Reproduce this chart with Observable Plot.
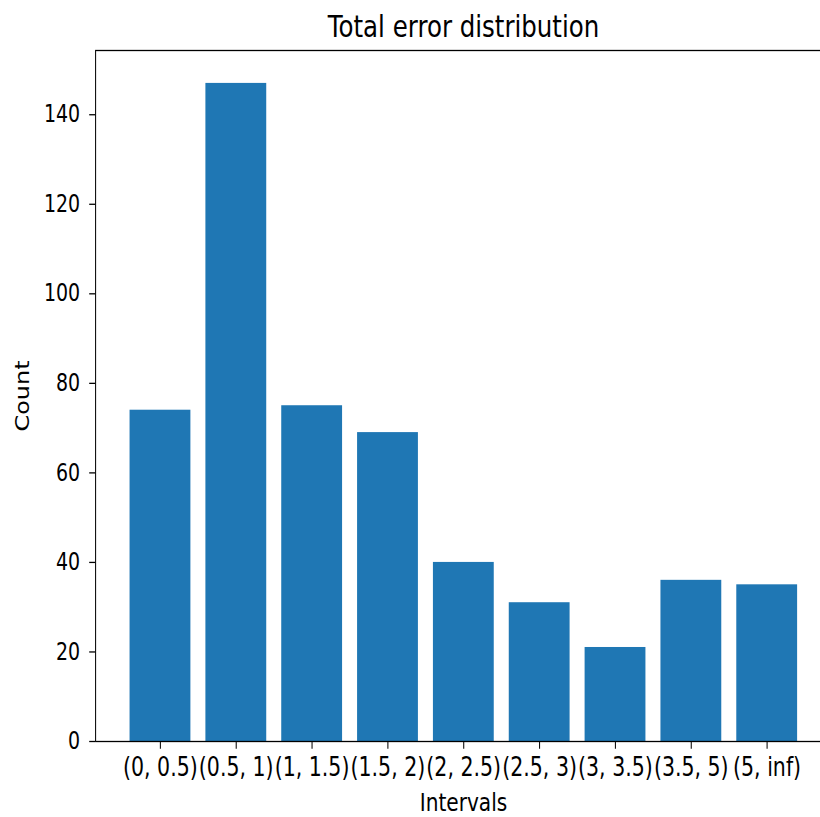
<!DOCTYPE html>
<html>
<head>
<meta charset="utf-8">
<script src="https://cdn.jsdelivr.net/npm/d3@7"></script>
<script src="https://cdn.jsdelivr.net/npm/@observablehq/plot@0.6"></script>
<style>
  html, body { margin: 0; padding: 0; background: white; }
  #chart { width: 820px; height: 817px; overflow: hidden; }
</style>
</head>
<body>
<div id="chart"></div>
<script>
const categories = ["(0, 0.5)", "(0.5, 1)", "(1, 1.5)", "(1.5, 2)", "(2, 2.5)", "(2.5, 3)", "(3, 3.5)", "(3.5, 5)", "(5, inf)"];
const counts = [74, 147, 75, 69, 40, 31, 21, 36, 35];
const yTicks = [0, 20, 40, 60, 80, 100, 120, 140];
const titleText = "Total error distribution";
const xLabel = "Intervals";
const yLabel = "Count";

const data = categories.map((c, i) => ({interval: c, count: counts[i]}));

// The reference figure is horizontally compressed; draw in a wider space and squeeze.
const SX = 0.79;
const W = 820 / SX;
const H = 817;
const axisLeft = 95.2 / SX;
const axisRight = 831 / SX;

const chart = Plot.plot({
  width: W,
  height: H,
  marginLeft: axisLeft,
  marginRight: W - axisRight,
  marginTop: 50,
  marginBottom: 76,
  style: {fontFamily: "DejaVu Sans", fontSize: "22px", color: "black", background: "white", overflow: "hidden"},
  x: {domain: categories, paddingInner: 0.2, paddingOuter: 0.44, label: null},
  y: {domain: [0, 147 * 1.05], label: null},
  marks: [
    Plot.barY(data, {x: "interval", y: "count", fill: "#1f77b4"}),
    Plot.frame({stroke: "black", strokeWidth: 1.3}),
    Plot.axisX({tickSize: 7.7, tickPadding: 8, fontSize: 26, label: null, stroke: "black", strokeWidth: 1.3}),
    Plot.axisY({ticks: yTicks, tickSize: 7.6, tickPadding: 12, fontSize: 24, label: null, stroke: "black", strokeWidth: 1.3}),
    Plot.text([titleText], {text: d => d, frameAnchor: "top", textAnchor: "middle", dy: -14, lineAnchor: "bottom", fontSize: 31}),
    Plot.text([yLabel], {text: d => d, frameAnchor: "left", textAnchor: "middle", lineAnchor: "middle", dx: -92, rotate: -90, fontSize: 24}),
    Plot.text([xLabel], {text: d => d, frameAnchor: "bottom", textAnchor: "middle", lineAnchor: "middle", dy: 61, fontSize: 25.5})
  ]
});

chart.setAttribute("width", 820);
chart.setAttribute("height", 817);
chart.setAttribute("preserveAspectRatio", "none");
chart.style.width = "820px";
chart.style.height = "817px";
chart.style.maxWidth = "none";
document.getElementById("chart").appendChild(chart);
</script>
</body>
</html>
